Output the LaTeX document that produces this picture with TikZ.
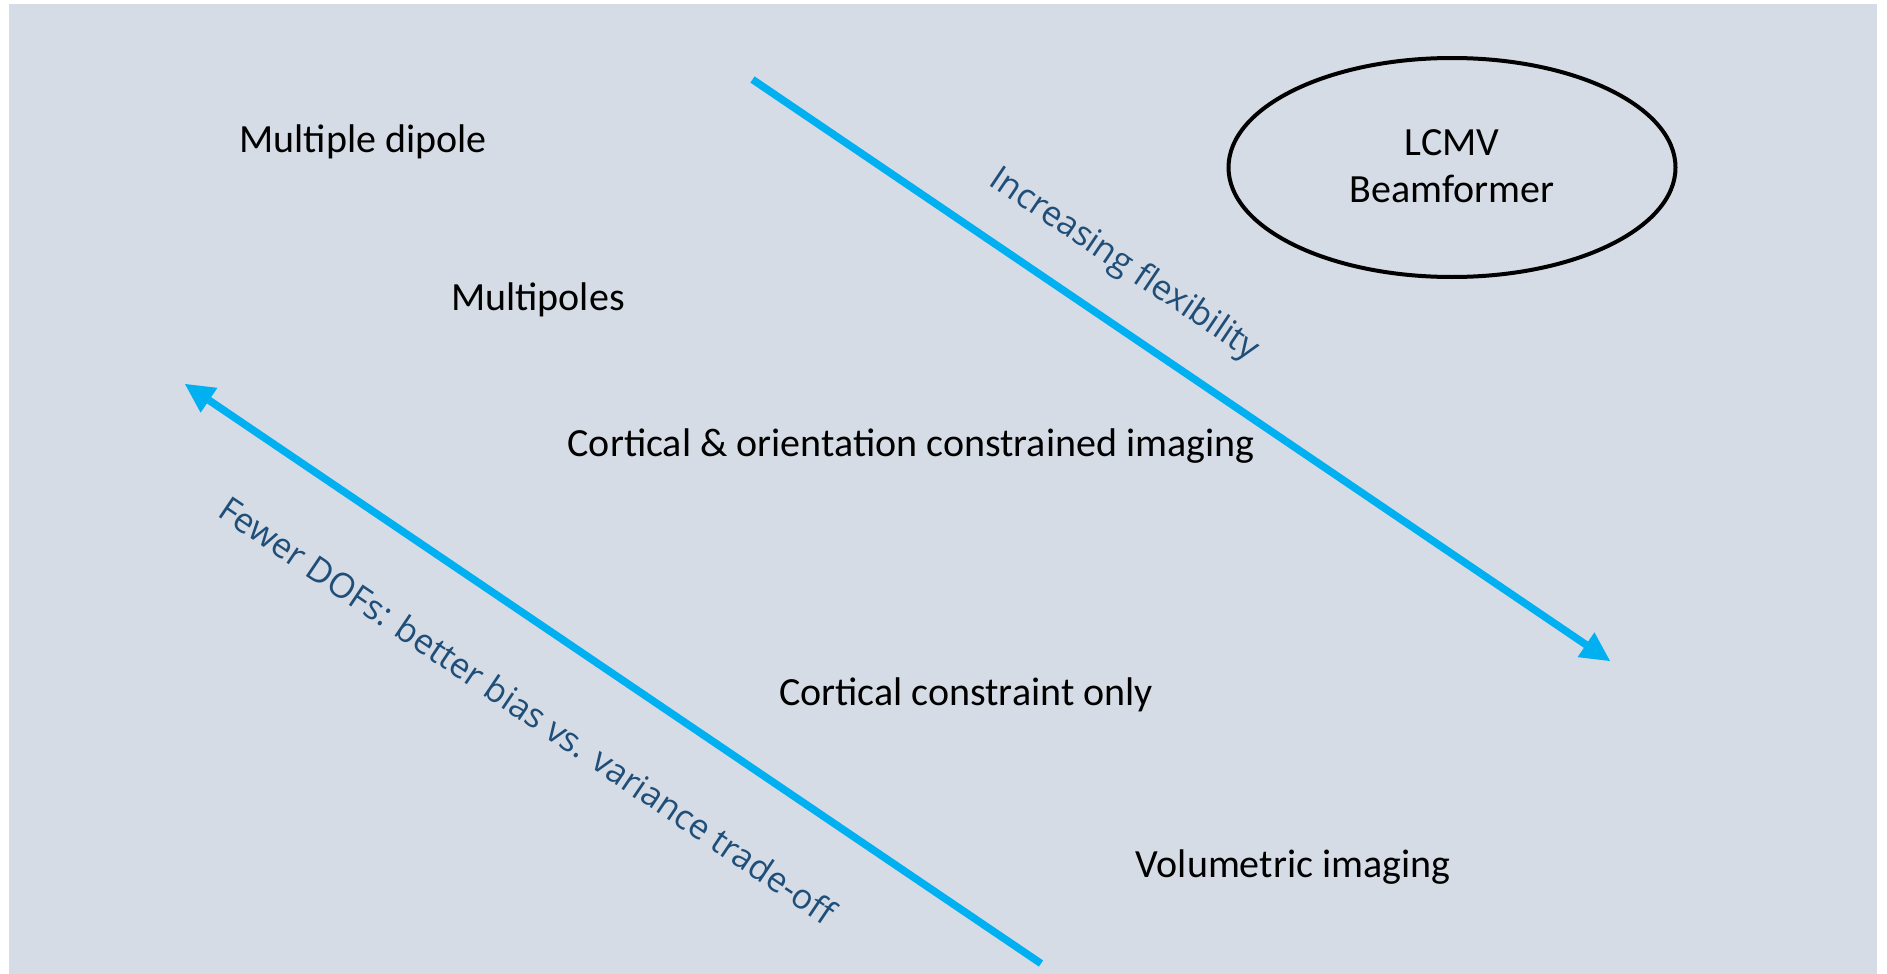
\documentclass[tikz,border=0pt]{standalone}
\usepackage{fontspec}
\setmainfont{Carlito}
\newfontfamily\rotfont{Open Sans}
\usetikzlibrary{arrows.meta,shapes.geometric}
\definecolor{bgcol}{HTML}{D6DCE5}
\definecolor{arrcol}{HTML}{00B0F0}
\definecolor{rotcol}{HTML}{1F4E79}
\tikzset{
  lbl/.style={inner sep=0pt, text=black, font=\fontsize{40}{47}\selectfont},
  rotlbl/.style={inner sep=0pt, text=rotcol, font=\rotfont\fontsize{34.5}{40}\selectfont, rotate=-34},
  bigarrow/.style={draw=arrcol, line width=7.5pt,
     -{Triangle[length=29pt,width=30pt,line width=0pt]}},
  ovalline/.style={draw=black, line width=4pt}
}
\begin{document}
\begin{tikzpicture}[x=1pt,y=-1pt]
\useasboundingbox (0,0) rectangle (1887,974);
\fill[white] (0,0) rectangle (1887,974);
\fill[bgcol] (9,4) rectangle (1877,974);

% labels
\node[lbl, anchor=base] (md) at (363,152) {Multiple dipole};
\node[lbl, anchor=base] (mp) at (538,310) {Multipoles};
\node[lbl, anchor=base] (coc) at (911,456) {Cortical \& orientation constrained imaging};
\node[lbl, anchor=base] (cco) at (966,705) {Cortical constraint only};
\node[lbl, anchor=base] (vol) at (1293,877) {Volumetric imaging};

% ellipse
\coordinate (lcmv) at (1452,167.5);
\draw[ovalline] (lcmv) ellipse [x radius=223.5pt, y radius=109.5pt];
\node[lbl, align=center] (lcmvtext) at ([yshift=1pt]lcmv) {LCMV\\Beamformer};

% arrows
\coordinate (a1s) at (752.5,79.5);
\coordinate (a1e) at (1610,661);
\draw[bigarrow] (a1s) -- (a1e);
\coordinate (a2s) at (1041,963.5);
\coordinate (a2e) at (185,384);
\draw[bigarrow] (a2s) -- (a2e);

% rotated labels
\node[rotlbl] (incflex) at (1124,265) {Increasing flexibility};
\node[rotlbl] (fewer) at (528,710) {Fewer DOFs: better bias vs. variance trade-off};
\end{tikzpicture}
\end{document}
